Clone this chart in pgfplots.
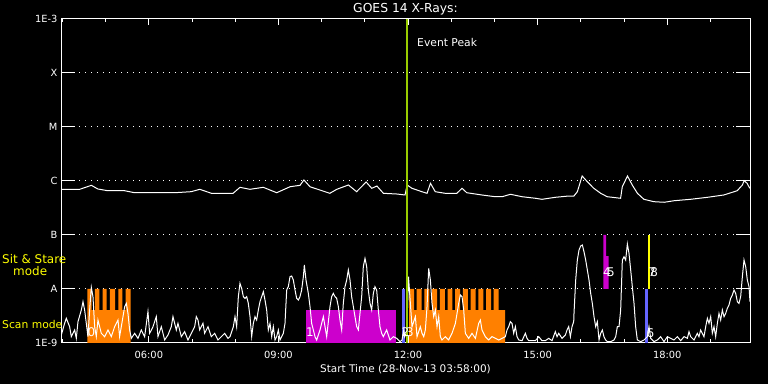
\documentclass[border=0pt]{standalone}
\usepackage{fontspec}
\setmainfont{DejaVu Sans}
\usepackage{pgfplots}
\pgfplotsset{compat=1.18}
\definecolor{scanorange}{RGB}{255,128,0}
\definecolor{obsmag}{RGB}{204,0,204}
\definecolor{obsblue}{RGB}{102,102,255}
\definecolor{obsyellow}{RGB}{255,255,0}
\definecolor{peakgreen}{RGB}{153,204,0}
\begin{document}
\begin{tikzpicture}
\useasboundingbox (0,0) rectangle (768bp,384bp);
\fill[black] (0,0) rectangle (768bp,384bp);
\begin{axis}[
  at={(61bp,41bp)}, anchor=south west,
  scale only axis, width=689bp, height=324bp,
  xmin=3.967, xmax=19.916, ymin=-9, ymax=-3,
  axis line style={white, line width=1bp},
  xtick={6,9,12,15,18}, xticklabels={06:00,09:00,12:00,15:00,18:00},
  minor xtick={4,5,7,8,10,11,13,14,16,17,19},
  ytick={-9,-8,-7,-6,-5,-4,-3}, yticklabels={1E-9,A,B,C,M,X,1E-3},
  tick align=inside,
  major tick length=14bp,
  xtick style={/pgfplots/major tick length=6.5bp, /pgfplots/minor tick length=3.5bp},
  every tick/.style={white, line width=1bp},
  ymajorgrids,
  grid style={white, line width=1bp, dash pattern=on 1bp off 5bp},
  ticklabel style={text=white, font=\fontsize{9.9}{11}\selectfont},
  xticklabel style={anchor=center, yshift=-12bp},
  title={GOES 14 X-Rays:},
  every axis title/.style={at={(axis description cs:0.5,1)}, anchor=center, yshift=10bp, text=white, font=\fontsize{12.4}{14}\selectfont},
  xlabel={Start Time (28-Nov-13 03:58:00)},
  xlabel style={at={(axis description cs:0.5,0)}, anchor=center, yshift=-26bp, text=white, font=\fontsize{10.5}{12}\selectfont},
]
% scan mode (orange)
\addplot[fill=scanorange, draw=none] coordinates {(4.576,-9) (4.576,-8) (4.678,-8) (4.678,-8.389) (4.754,-8.389) (4.754,-8) (4.854,-8) (4.854,-8.389) (4.932,-8.389) (4.932,-8) (5.025,-8) (5.025,-8.389) (5.101,-8.389) (5.101,-8) (5.217,-8) (5.217,-8.389) (5.293,-8.389) (5.293,-8) (5.386,-8) (5.386,-8.389) (5.465,-8.389) (5.465,-8) (5.580,-8) (5.580,-9)};
\addplot[fill=scanorange, draw=none] coordinates {(12.023,-9) (12.023,-8) (12.139,-8) (12.139,-8.389) (12.201,-8.389) (12.201,-8) (12.317,-8) (12.317,-8.389) (12.379,-8.389) (12.379,-8) (12.495,-8) (12.495,-8.389) (12.557,-8.389) (12.557,-8) (12.673,-8) (12.673,-8.389) (12.735,-8.389) (12.735,-8) (12.851,-8) (12.851,-8.389) (12.914,-8.389) (12.914,-8) (13.029,-8) (13.029,-8.389) (13.092,-8.389) (13.092,-8) (13.207,-8) (13.207,-8.389) (13.270,-8.389) (13.270,-8) (13.386,-8) (13.386,-8.389) (13.448,-8.389) (13.448,-8) (13.564,-8) (13.564,-8.389) (13.627,-8.389) (13.627,-8) (13.742,-8) (13.742,-8.389) (13.805,-8.389) (13.805,-8) (13.921,-8) (13.921,-8.389) (13.983,-8.389) (13.983,-8) (14.099,-8) (14.099,-8.389) (14.245,-8.389) (14.245,-9)};
% other observations
\addplot[fill=obsmag, draw=none] coordinates {(9.638,-9) (9.638,-8.389) (11.722,-8.389) (11.722,-9)};
\addplot[fill=obsblue, draw=none] coordinates {(11.860,-9) (11.860,-8) (11.930,-8) (11.930,-9)};
\addplot[fill=obsmag, draw=none] coordinates {(16.520,-8) (16.520,-7) (16.583,-7) (16.583,-7.389) (16.645,-7.389) (16.645,-8)};
\addplot[fill=obsblue, draw=none] coordinates {(17.485,-9) (17.485,-8) (17.555,-8) (17.555,-9)};
\addplot[fill=obsyellow, draw=none] coordinates {(17.555,-8) (17.555,-7) (17.601,-7) (17.601,-8)};
% long channel
\addplot[white, line width=1bp, mark=none] coordinates {
(3.97,-6.154) (4.40,-6.154) (4.67,-6.080) (4.82,-6.148) (5.05,-6.180) (5.44,-6.180) (5.67,-6.217) (6.21,-6.217) (6.60,-6.217) (6.98,-6.198) (7.18,-6.154) (7.45,-6.228) (7.95,-6.228)
(8.11,-6.117) (8.34,-6.154) (8.65,-6.117) (8.96,-6.217) (9.27,-6.106) (9.50,-6.080) (9.59,-5.981) (9.73,-6.106) (10.19,-6.228) (10.35,-6.154) (10.62,-6.074) (10.81,-6.198) (11.03,-6.019) (11.16,-6.135) (11.28,-6.093) (11.43,-6.228) (11.74,-6.241) (11.93,-6.259)
(11.98,-6.074) (12.09,-6.135) (12.32,-6.198) (12.44,-6.228) (12.52,-6.043) (12.63,-6.198) (12.86,-6.228) (13.13,-6.228) (13.25,-6.135) (13.36,-6.217) (13.71,-6.259) (14.02,-6.291) (14.18,-6.291) (14.37,-6.246) (14.64,-6.291) (14.95,-6.320) (15.10,-6.339) (15.41,-6.302) (15.72,-6.278) (15.84,-6.278)
(15.92,-6.198) (16.03,-5.907) (16.15,-6.013) (16.30,-6.135) (16.46,-6.228) (16.61,-6.291) (16.92,-6.320) (16.96,-6.106) (17.08,-5.907) (17.19,-6.074) (17.31,-6.228) (17.46,-6.339) (17.69,-6.383) (17.93,-6.394) (18.16,-6.365) (18.54,-6.339) (18.93,-6.302) (19.31,-6.259) (19.62,-6.180) (19.74,-6.074) (19.78,-5.994) (19.85,-6.043) (19.91,-6.135)
};
% short channel
\addplot[white, line width=1bp, mark=none] coordinates {
(3.974,-8.852) (4.051,-8.636) (4.090,-8.543) (4.167,-8.698) (4.206,-8.883) (4.283,-8.759) (4.321,-8.914) (4.360,-8.605) (4.437,-8.389) (4.476,-8.235) (4.514,-8.389) (4.553,-8.636) (4.591,-8.883) (4.630,-8.389) (4.669,-7.969) (4.707,-8.142) (4.746,-8.698) (4.784,-8.883) (4.823,-8.574) (4.900,-8.821) (4.977,-8.883) (5.054,-8.759) (5.131,-8.883) (5.209,-8.698) (5.286,-8.574) (5.324,-8.883) (5.402,-8.512) (5.440,-8.327) (5.479,-8.265) (5.517,-8.451) (5.556,-8.759) (5.595,-8.914) (5.672,-8.821) (5.749,-8.914) (5.826,-8.759) (5.903,-8.883) (5.980,-8.420) (6.019,-8.821) (6.096,-8.698) (6.173,-8.512) (6.212,-8.883) (6.289,-8.698) (6.366,-8.944) (6.443,-8.852) (6.520,-8.698) (6.559,-8.512) (6.636,-8.759) (6.675,-8.636) (6.752,-8.883) (6.829,-8.790) (6.906,-8.944) (6.984,-8.821) (7.061,-8.698) (7.099,-8.512) (7.138,-8.574) (7.177,-8.759) (7.254,-8.636) (7.292,-8.821) (7.369,-8.698) (7.446,-8.883) (7.524,-8.821) (7.601,-8.944) (7.678,-8.883) (7.755,-8.821) (7.832,-8.914)
(7.879,-8.883) (7.956,-8.698) (7.995,-8.512) (8.033,-8.698) (8.072,-8.142) (8.110,-7.895) (8.149,-7.988) (8.188,-8.142) (8.226,-8.173) (8.265,-8.142) (8.303,-8.265) (8.342,-8.512) (8.381,-8.883) (8.419,-8.636) (8.458,-8.512) (8.496,-8.574) (8.535,-8.389) (8.573,-8.235) (8.612,-8.142) (8.651,-8.049) (8.689,-8.204) (8.728,-8.389) (8.766,-8.759) (8.805,-8.636) (8.844,-8.883) (8.882,-8.698) (8.921,-8.944) (8.959,-8.883) (8.998,-8.759) (9.036,-8.944) (9.114,-8.821) (9.152,-8.636) (9.191,-8.019) (9.229,-7.957) (9.268,-7.772) (9.306,-7.759) (9.345,-7.833) (9.384,-8.019) (9.422,-8.173) (9.461,-8.204) (9.499,-8.142) (9.538,-8.019) (9.577,-7.772) (9.600,-7.556) (9.638,-7.833) (9.692,-8.080) (9.731,-8.327) (9.769,-8.636) (9.808,-8.759) (9.847,-8.883) (9.885,-8.944) (9.962,-8.759) (10.040,-8.512) (10.117,-8.883) (10.194,-8.327) (10.232,-8.142) (10.271,-8.080) (10.310,-8.142) (10.348,-8.173) (10.387,-8.327) (10.425,-8.574) (10.464,-8.759) (10.502,-8.265) (10.541,-7.957) (10.580,-7.833) (10.618,-7.648) (10.657,-7.833) (10.695,-8.142) (10.734,-8.327) (10.772,-8.512) (10.811,-8.698) (10.850,-8.759) (10.888,-8.451) (10.927,-8.142) (10.965,-7.586) (11.004,-7.432) (11.043,-7.586) (11.081,-8.019) (11.120,-8.265) (11.158,-8.389) (11.197,-8.080) (11.235,-7.957) (11.274,-8.019) (11.313,-8.389) (11.351,-8.698) (11.390,-8.821) (11.428,-8.883) (11.505,-8.759) (11.583,-8.944) (11.660,-8.883) (11.737,-8.914) (11.814,-8.975)
(11.861,-8.944) (11.900,-8.759) (11.923,-8.883) (11.970,-8.790) (12.011,-7.772) (12.054,-8.265) (12.092,-8.698) (12.170,-8.512) (12.208,-8.883) (12.285,-8.698) (12.324,-8.821) (12.363,-8.883) (12.401,-8.759) (12.440,-8.327) (12.478,-7.617) (12.517,-7.833) (12.555,-8.265) (12.594,-8.512) (12.633,-8.389) (12.671,-8.698) (12.710,-8.512) (12.748,-8.883) (12.787,-8.944) (12.864,-8.883) (12.941,-8.944) (13.018,-8.821) (13.096,-8.636) (13.173,-8.265) (13.211,-8.111) (13.250,-8.142) (13.289,-8.389) (13.327,-8.821) (13.404,-8.914) (13.481,-8.821) (13.559,-8.914) (13.636,-8.636) (13.674,-8.574) (13.713,-8.759) (13.790,-8.883) (13.867,-8.944) (13.944,-8.883) (14.022,-8.914) (14.099,-8.944) (14.176,-8.914) (14.253,-8.883) (14.292,-8.759) (14.330,-8.698) (14.369,-8.605) (14.407,-8.636) (14.446,-8.821) (14.485,-8.698) (14.523,-8.883) (14.562,-8.944) (14.639,-8.957) (14.716,-8.821) (14.755,-8.914) (14.793,-8.957) (14.948,-8.957) (15.025,-8.883) (15.102,-8.957) (15.179,-8.957) (15.256,-8.914) (15.333,-8.957) (15.410,-8.790) (15.449,-8.883) (15.488,-8.821) (15.565,-8.914) (15.642,-8.852) (15.681,-8.759) (15.719,-8.698) (15.758,-8.883) (15.796,-8.698) (15.835,-8.605)
(15.842,-8.451) (15.881,-7.833) (15.919,-7.463) (15.958,-7.278) (15.996,-7.204) (16.035,-7.185) (16.073,-7.309) (16.112,-7.463) (16.151,-7.648) (16.189,-7.833) (16.228,-8.080) (16.266,-8.265) (16.305,-8.512) (16.344,-8.698) (16.382,-8.605) (16.421,-8.944) (16.459,-8.821) (16.498,-8.759) (16.536,-8.883) (16.575,-8.944) (16.614,-8.975) (16.691,-8.975) (16.768,-8.944) (16.807,-8.883) (16.845,-8.698) (16.884,-8.698) (16.922,-8.389) (16.961,-7.463) (16.999,-7.401) (17.038,-7.463) (17.077,-7.167) (17.115,-7.340) (17.154,-7.648) (17.192,-7.957) (17.231,-8.265) (17.269,-8.698) (17.308,-8.944) (17.385,-8.975) (17.462,-8.944) (17.540,-8.883) (17.578,-8.698) (17.617,-8.914) (17.694,-8.975) (17.771,-8.944) (17.848,-8.883) (17.925,-8.975) (18.003,-8.883) (18.157,-8.944) (18.234,-8.883) (18.311,-8.957) (18.388,-8.883) (18.466,-8.914) (18.504,-8.790) (18.543,-8.883) (18.620,-8.944) (18.697,-8.821) (18.735,-8.883) (18.774,-8.759) (18.851,-8.883) (18.890,-8.698) (18.929,-8.543) (18.967,-8.636) (19.006,-8.512) (19.044,-8.821) (19.083,-8.698) (19.121,-8.883) (19.160,-8.636) (19.198,-8.451) (19.237,-8.574) (19.276,-8.389) (19.314,-8.512) (19.353,-8.451) (19.391,-8.358) (19.430,-8.296) (19.468,-8.173) (19.507,-8.111) (19.546,-8.019) (19.584,-8.080) (19.623,-8.235) (19.661,-8.265) (19.700,-8.142) (19.739,-7.772) (19.777,-7.463) (19.816,-7.586) (19.854,-7.833) (19.893,-7.957) (19.916,-8.235)
};
% event peak
\addplot[peakgreen, line width=2bp, mark=none] coordinates {(11.987,-9) (11.987,-3)};
\node[anchor=west, text=white, font=\fontsize{10.8}{12}\selectfont, inner sep=0pt] at (axis cs:12.208,-3.444) {Event Peak};
% observation numbers
\begin{scope}[every node/.style={text=white, font=\fontsize{12}{12}\selectfont, inner sep=0pt}]
\node at (axis cs:4.673,-8.806) {0};
\node at (axis cs:9.731,-8.796) {1};
\node at (axis cs:11.941,-8.806) {2};
\node at (axis cs:12.046,-8.806) {3};
\node at (axis cs:16.606,-7.685) {4};
\node at (axis cs:16.699,-7.685) {5};
\node at (axis cs:17.613,-8.815) {6};
\node at (axis cs:17.650,-7.685) {7};
\node at (axis cs:17.697,-7.685) {8};
\end{scope}
\end{axis}
\node[anchor=west, text=obsyellow, font=\fontsize{12}{12}\selectfont, inner sep=0pt] at (2bp,125bp) {Sit \& Stare};
\node[anchor=west, text=obsyellow, font=\fontsize{12}{12}\selectfont, inner sep=0pt] at (13bp,113bp) {mode};
\node[anchor=west, text=obsyellow, font=\fontsize{10.8}{12}\selectfont, inner sep=0pt] at (2bp,60bp) {Scan mode};
\end{tikzpicture}
\end{document}
